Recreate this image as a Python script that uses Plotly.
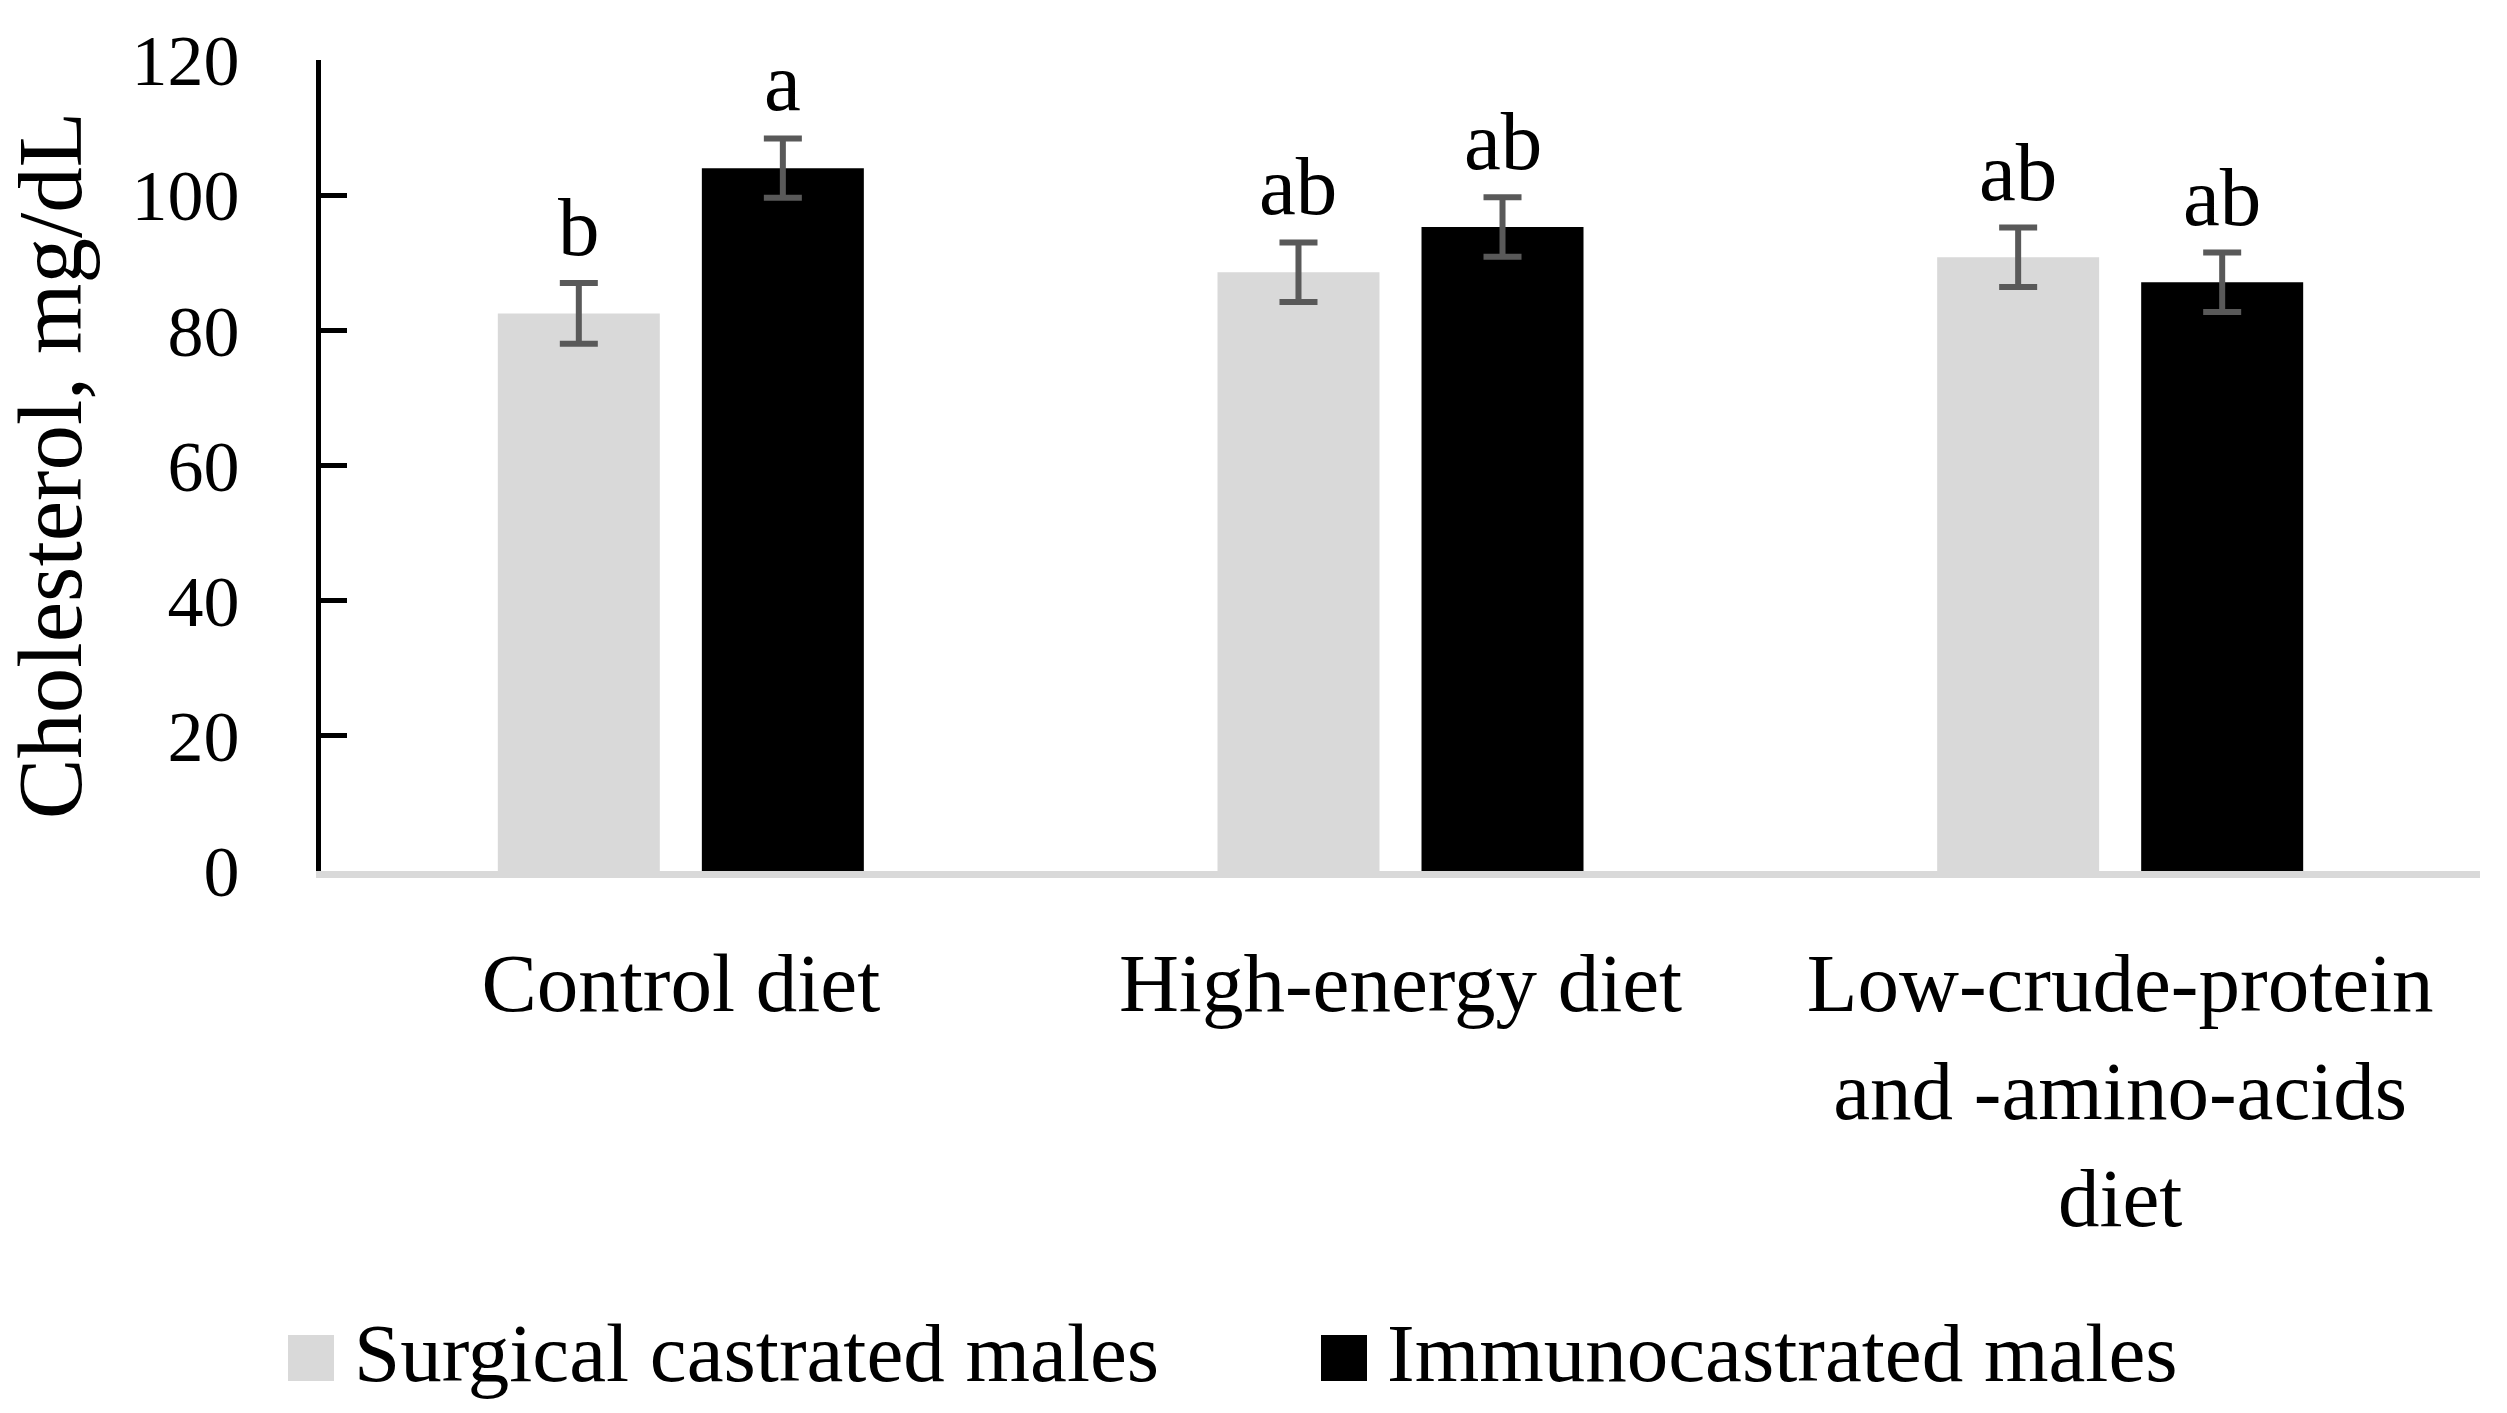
import plotly.graph_objects as go

# ---- data ----
categories = ["Control diet", "High-energy diet",
              "Low-crude-protein<br>and -amino-acids<br>diet"]
series_names = ["Surgical castrated males", "Immunocastrated males"]
surgical = [82.5, 88.6, 90.8]
surgical_err = [4.5, 4.4, 4.4]
immuno = [104.0, 95.3, 87.1]
immuno_err = [4.4, 4.4, 4.4]
surgical_letters = ["b", "ab", "ab"]
immuno_letters = ["a", "ab", "ab"]
y_ticks = [0, 20, 40, 60, 80, 100, 120]

# ---- style ----
W, H = 2507, 1413
ML, MR, MT, MB = 321, 27, 60, 542
FONT = "Liberation Serif, Times New Roman, serif"
GRAY = "#d9d9d9"
BLACK = "#000000"
ERR = "#595959"
BARGAP = 0.433
BARGROUPGAP = 0.206

fig = go.Figure()
for name, vals, errs, col in [(series_names[0], surgical, surgical_err, GRAY),
                              (series_names[1], immuno, immuno_err, BLACK)]:
    fig.add_trace(go.Bar(
        x=categories, y=vals, name=name, marker_color=col,
        marker_line_width=0, showlegend=False,
        error_y=dict(type="data", array=errs, visible=True,
                     color=ERR, thickness=6, width=19),
    ))

# letters above error bars
plot_w = W - ML - MR
cat_px = plot_w / len(categories)
slot = (1 - BARGAP) / 2
shift = slot / 2 * cat_px
for letters, vals, errs, sgn in [(surgical_letters, surgical, surgical_err, -1),
                                 (immuno_letters, immuno, immuno_err, 1)]:
    for c, t, v, e in zip(categories, letters, vals, errs):
        fig.add_annotation(x=c, y=v + e, text=t, showarrow=False,
                           xshift=sgn * shift, yshift=8, yanchor="bottom",
                           font=dict(family=FONT, size=83, color="black"))

# custom legend (large square swatches)
plot_h = H - MT - MB
def px_to_paper_x(px):
    return (px - ML) / plot_w
def px_to_paper_y(py):
    return (H - MB - py) / plot_h

legend_items = [(series_names[0], GRAY, 288), (series_names[1], BLACK, 1321)]
sq = 46
sq_top = 1335
for name, col, x0 in legend_items:
    fig.add_shape(type="rect", xref="paper", yref="paper",
                  x0=px_to_paper_x(x0), x1=px_to_paper_x(x0 + sq),
                  y0=px_to_paper_y(sq_top + sq), y1=px_to_paper_y(sq_top),
                  fillcolor=col, line_width=0)
    fig.add_annotation(xref="paper", yref="paper",
                       x=px_to_paper_x(x0 + sq + 18), y=px_to_paper_y(sq_top + sq / 2 - 5),
                       xanchor="left", yanchor="middle", text=name, showarrow=False,
                       font=dict(family=FONT, size=83, color="black"))

fig.update_layout(
    width=W, height=H, autosize=False,
    margin=dict(l=ML, r=MR, t=MT, b=MB, pad=0),
    paper_bgcolor="white", plot_bgcolor="white",
    barmode="group", bargap=BARGAP, bargroupgap=BARGROUPGAP,
    font=dict(family=FONT, color="black"),
)
fig.update_xaxes(
    showline=True, linecolor=GRAY, linewidth=7, showgrid=False,
    ticks="", tickfont=dict(family=FONT, size=83, color="black"),
    ticklabelstandoff=33,
)
fig.update_yaxes(
    range=[0, 120], tickvals=y_ticks, showline=True, linecolor="black",
    linewidth=5, ticks="inside", ticklen=26, tickwidth=5, tickcolor="black",
    showgrid=False, zeroline=False,
    tickfont=dict(family=FONT, size=72, color="black"),
    ticklabelstandoff=62,
    title=dict(text="Cholesterol, mg/dL", font=dict(family=FONT, size=91, color="black"),
               standoff=30),
)

fig.write_html("out.html", config={"displayModeBar": False},
               post_script="document.body.style.margin='0';")
